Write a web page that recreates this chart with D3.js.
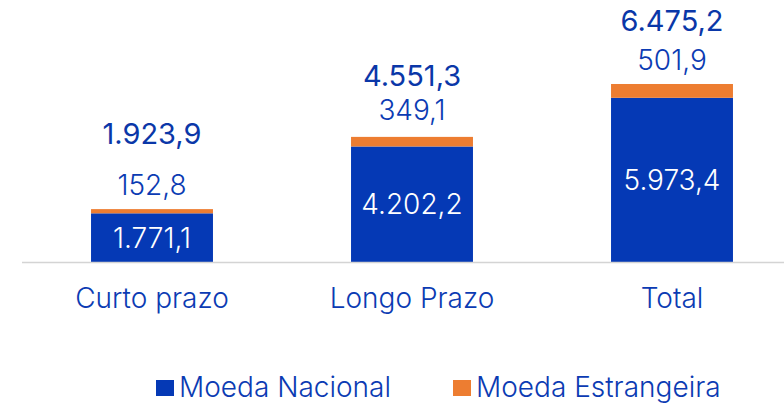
<!DOCTYPE html>
<html>
<head>
<meta charset="utf-8">
<script src="https://cdn.jsdelivr.net/npm/d3@7"></script>
<style>
  html, body { margin: 0; padding: 0; background: #fff; }
  svg { display: block; font-family: Inter, "Noto Sans", sans-serif; }
</style>
</head>
<body>
<svg id="chart" width="784" height="406"></svg>
<script>
// Dívida por prazo, em milhões
const categories = ["Curto prazo", "Longo Prazo", "Total"];
const nacional = [1771.1, 4202.2, 5973.4];
const estrangeira = [152.8, 349.1, 501.9];
const totals = [1923.9, 4551.3, 6475.2];
const seriesNames = ["Moeda Nacional", "Moeda Estrangeira"];

const colors = { nacional: "#0539B5", estrangeira: "#ED7D31", text: "#0B3BB3", total: "#0A37A8" };

const svg = d3.select("#chart");
const baseY = 262;

const x = d3.scaleBand().domain(categories).range([22, 802]).paddingInner(0.531).paddingOuter(0.2655);
const y = d3.scaleLinear().domain([0, d3.max(totals)]).range([baseY, 84]);

const fmt = v => d3.format(",.1f")(v).replace(/,/g, "#").replace(".", ",").replace(/#/g, ".");

const rows = categories.map((c, i) => ({ c, n: nacional[i], e: estrangeira[i], t: totals[i] }));

// Segmentos empilhados
const g = svg.append("g");
g.selectAll("rect.nac").data(rows).join("rect")
  .attr("x", d => x(d.c)).attr("width", x.bandwidth())
  .attr("y", d => y(d.n)).attr("height", d => y(0) - y(d.n))
  .attr("fill", colors.nacional);
g.selectAll("rect.est").data(rows).join("rect")
  .attr("x", d => x(d.c)).attr("width", x.bandwidth())
  .attr("y", d => y(d.n + d.e)).attr("height", d => y(d.n) - y(d.n + d.e))
  .attr("fill", colors.estrangeira);

// Eixo horizontal
const axis = svg.append("g").attr("transform", `translate(0,${baseY})`)
  .call(d3.axisBottom(x).tickSize(0).tickPadding(0));
axis.select(".domain").attr("stroke", "#d4d4d4").attr("stroke-width", 1.5).attr("d", "M22,0.5H784");
axis.selectAll(".tick text")
  .attr("y", 46).attr("dy", null)
  .attr("font-size", 28).attr("font-weight", 300)
  .attr("font-family", "Inter, sans-serif")
  .attr("fill", colors.text);

// Rótulos de valor
const lift = [[24, 76], [27, 61], [24, 63]];
g.selectAll("text.nac").data(rows).join("text")
  .attr("x", d => x(d.c) + x.bandwidth() / 2)
  .attr("y", d => (y(d.n) + y(0)) / 2)
  .attr("dy", "0.36em").attr("text-anchor", "middle")
  .attr("font-size", 28).attr("font-weight", 300).attr("fill", "#fff")
  .text(d => fmt(d.n));
g.selectAll("text.est").data(rows).join("text")
  .attr("x", d => x(d.c) + x.bandwidth() / 2)
  .attr("y", (d, i) => y(d.t) - lift[i][0])
  .attr("dy", "0.36em").attr("text-anchor", "middle")
  .attr("font-size", 28).attr("font-weight", 300).attr("fill", colors.text)
  .text(d => fmt(d.e));
g.selectAll("text.tot").data(rows).join("text")
  .attr("x", d => x(d.c) + x.bandwidth() / 2)
  .attr("y", (d, i) => y(d.t) - lift[i][1])
  .attr("dy", "0.36em").attr("text-anchor", "middle")
  .attr("font-size", 29).attr("font-weight", 400).attr("fill", colors.total)
  .text(d => fmt(d.t));

// Legenda
const legend = svg.append("g").attr("transform", "translate(0,388)");
const legendX = [156, 453];
const legendColors = [colors.nacional, colors.estrangeira];
const items = legend.selectAll("g").data(seriesNames).join("g")
  .attr("transform", (d, i) => `translate(${legendX[i]},0)`);
items.append("rect").attr("x", 0).attr("y", -8).attr("width", 18).attr("height", 16)
  .attr("fill", (d, i) => legendColors[i]);
items.append("text").attr("x", 23).attr("y", 9)
  .attr("font-size", 28).attr("font-weight", 300).attr("fill", colors.text)
  .text(d => d);
</script>
</body>
</html>
